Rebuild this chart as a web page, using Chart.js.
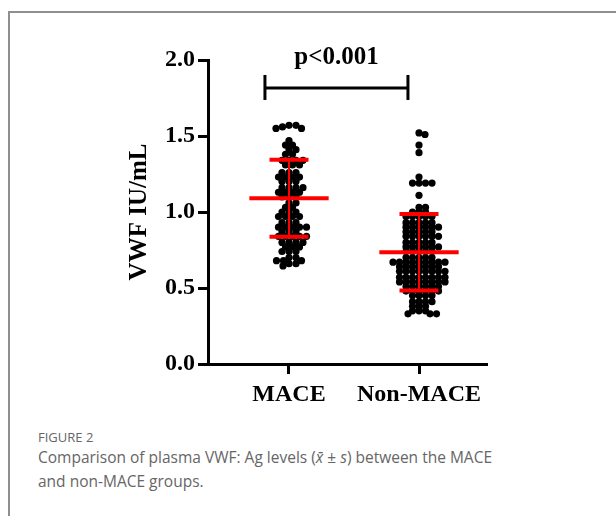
<!DOCTYPE html>
<html>
<head>
<meta charset="utf-8">
<script src="https://cdn.jsdelivr.net/npm/chart.js@4/dist/chart.umd.min.js"></script>
<style>
  html, body { margin:0; padding:0; background:#fff; }
  body { width:616px; height:516px; position:relative; overflow:hidden; }
  #frame { position:absolute; left:8px; top:11px; width:700px; height:600px;
           border-left:2px solid #8f8f8f; border-top:2px solid #8f8f8f; }
  #chart { position:absolute; left:0; top:0; }
  #cap { position:absolute; left:38px; top:428px; font-family:'Open Sans', 'Noto Sans', sans-serif; color:#666; }
  #cap .fig { font-size:13px; line-height:18px; }
  #cap .txt { font-size:15.5px; line-height:24px; margin-top:-1px; }
</style>
</head>
<body>
<div id="frame"></div>
<canvas id="chart" width="616" height="412"></canvas>
<div id="cap">
  <div class="fig">FIGURE 2</div>
  <div class="txt">Comparison of plasma VWF: Ag levels (<i>x̄</i> ± <i>s</i>) between the MACE<br>and non-MACE groups.</div>
</div>
<script>
// ---- data ----
const categories = ['MACE', 'Non-MACE'];
const yTicks = [0.0, 0.5, 1.0, 1.5, 2.0];

const maceValues = [
  1.57, 1.57, 1.56, 1.55, 1.55,
  1.47,
  1.44, 1.44,
  1.41, 1.41,
  1.38, 1.38,
  1.34, 1.34, 1.34, 1.34,
  1.31, 1.31, 1.31,
  1.26, 1.26, 1.26,
  1.23, 1.23, 1.23, 1.23,
  1.20, 1.20, 1.20,
  1.16, 1.16, 1.16, 1.16,
  1.13, 1.13, 1.13, 1.13,
  1.10, 1.10, 1.10,
  1.06, 1.06,
  1.03, 1.03,
  1.00, 1.00, 1.00,
  0.97, 0.97, 0.97, 0.97,
  0.93, 0.93, 0.93,
  0.90, 0.90, 0.90, 0.90, 0.90,
  0.87, 0.87, 0.87,
  0.84, 0.84, 0.84, 0.84, 0.84,
  0.80, 0.80, 0.80, 0.80,
  0.77, 0.77, 0.77,
  0.74, 0.74, 0.74,
  0.70, 0.70,
  0.68, 0.68, 0.68,
  0.66, 0.66, 0.645
];

const nonMaceValues = [
  1.52, 1.51,
  1.44,
  1.39,
  1.23,
  1.19, 1.19, 1.19, 1.19,
  1.11,
  1.03, 1.03,
  1.00, 1.00, 1.00,
  0.97, 0.97, 0.97, 0.97, 0.97,
  0.93, 0.93, 0.93, 0.93, 0.93,
  0.90, 0.90, 0.90, 0.90, 0.90, 0.90,
  0.87, 0.87, 0.87, 0.87, 0.87,
  0.84, 0.84, 0.84, 0.84, 0.84, 0.84,
  0.80, 0.80, 0.80, 0.80, 0.80,
  0.77, 0.77, 0.77, 0.77, 0.77, 0.77,
  0.74, 0.74, 0.74, 0.74, 0.74,
  0.70, 0.70, 0.70, 0.70, 0.70,
  0.67, 0.67, 0.67, 0.67, 0.67, 0.67, 0.67, 0.67, 0.67,
  0.64, 0.64, 0.64, 0.64, 0.64, 0.64, 0.64,
  0.61, 0.61, 0.61, 0.61, 0.61, 0.61, 0.61, 0.61,
  0.57, 0.57, 0.57, 0.57, 0.57, 0.57, 0.57, 0.57,
  0.54, 0.54, 0.54, 0.54, 0.54, 0.54, 0.54, 0.54,
  0.51, 0.51, 0.51, 0.51, 0.51, 0.51,
  0.48, 0.48, 0.48, 0.48, 0.48, 0.48,
  0.45, 0.45, 0.45, 0.45,
  0.41, 0.41, 0.41, 0.41,
  0.38, 0.38, 0.38,
  0.35, 0.35, 0.35,
  0.33, 0.33, 0.33
];

const groupMeans = [1.09, 0.735];
const groupSDs   = [0.253, 0.252];
const pLabel = 'p<0.001';
const bracketRange = [0.815, 1.915];   // x extent of comparison bracket (category units)
const bracketLevel = 1.816;            // y value of bracket
// ------------------------------------

const SERIF = "'Liberation Serif', 'Times New Roman', serif";
const groups = [maceValues, nonMaceValues];
const swarmSpacing = [[6.6, 5.2], [6.2, 4.3]];

const overlay = {
  id: 'overlay',
  afterDatasetsDraw(chart) {
    const {ctx, scales:{x, y}} = chart;
    ctx.save();
    ctx.strokeStyle = '#ff0000';
    groups.forEach((g, i) => {
      const cx = x.getPixelForValue(i + 1);
      const unit = x.getPixelForValue(1) - x.getPixelForValue(0);
      const m = groupMeans[i], s = groupSDs[i];
      const yHi = y.getPixelForValue(m + s), yLo = y.getPixelForValue(m - s), yM = y.getPixelForValue(m);
      ctx.lineWidth = 2;
      ctx.beginPath(); ctx.moveTo(cx, yHi); ctx.lineTo(cx, yLo); ctx.stroke();
      ctx.lineWidth = 4;
      const hw = 0.305 * unit, sw = 0.15 * unit;
      ctx.beginPath(); ctx.moveTo(cx - hw, yM); ctx.lineTo(cx + hw, yM); ctx.stroke();
      ctx.beginPath(); ctx.moveTo(cx - sw, yHi); ctx.lineTo(cx + sw, yHi); ctx.stroke();
      ctx.beginPath(); ctx.moveTo(cx - sw, yLo); ctx.lineTo(cx + sw, yLo); ctx.stroke();
    });
    const bx1 = x.getPixelForValue(bracketRange[0]);
    const bx2 = x.getPixelForValue(bracketRange[1]);
    const by = y.getPixelForValue(bracketLevel);
    ctx.strokeStyle = '#000'; ctx.lineWidth = 3;
    ctx.beginPath(); ctx.moveTo(bx1, by); ctx.lineTo(bx2, by); ctx.stroke();
    ctx.beginPath(); ctx.moveTo(bx1, by - 13); ctx.lineTo(bx1, by + 12); ctx.stroke();
    ctx.beginPath(); ctx.moveTo(bx2, by - 13); ctx.lineTo(bx2, by + 12); ctx.stroke();
    ctx.fillStyle = '#000';
    ctx.font = 'bold 25px ' + SERIF;
    ctx.textAlign = 'center'; ctx.textBaseline = 'alphabetic';
    ctx.fillText(pLabel, (bx1 + bx2) / 2, by - 24);
    ctx.restore();
  }
};

const chart = new Chart(document.getElementById('chart'), {
  type: 'scatter',
  data: {
    datasets: groups.map((g, i) => ({
      label: categories[i],
      data: g.map(v => ({x: i + 1, y: v})),
      backgroundColor: '#000',
      borderColor: '#000',
      pointRadius: 3.6,
      borderWidth: 0
    }))
  },
  options: {
    responsive: false,
    animation: false,
    devicePixelRatio: 1,
    layout: { padding: { top: 60, right: 129, left: 0, bottom: 0 } },
    plugins: { legend: { display: false }, tooltip: { enabled: false } },
    scales: {
      x: {
        type: 'linear', min: 0.377, max: 2.523,
        afterBuildTicks: s => { s.ticks = categories.map((c, i) => ({ value: i + 1 })); },
        afterFit: s => { s.height = 412 - 364; },
        ticks: {
          autoSkip: false, maxRotation: 0, padding: 6, color: '#000',
          font: { family: SERIF, size: 24, weight: 'bold' },
          callback: v => categories[Math.round(v) - 1]
        },
        grid: { drawOnChartArea: false, drawTicks: true, tickLength: 10, tickWidth: 3, tickColor: '#000', color: '#000' },
        border: { display: true, color: '#000', width: 3 }
      },
      y: {
        min: 0, max: 2,
        afterBuildTicks: s => { s.ticks = yTicks.map(v => ({ value: v })); },
        afterFit: s => { s.width = 208; },
        ticks: {
          padding: 3, color: '#000',
          font: { family: SERIF, size: 24, weight: 'bold' },
          callback: v => Number(v).toFixed(1)
        },
        grid: { drawOnChartArea: false, drawTicks: true, tickLength: 10, tickWidth: 3, tickColor: '#000', color: '#000' },
        border: { display: true, color: '#000', width: 3 },
        title: {
          display: true, text: 'VWF IU/mL', color: '#000',
          font: { family: SERIF, size: 25, weight: 'bold' },
          padding: { top: 125, bottom: 0 }
        }
      }
    }
  },
  plugins: [overlay]
});

// beeswarm layout of the dots (derived from the values through the scales)
function swarm(values, yScale, ax, ay) {
  const order = values.map((v, i) => i).sort((a, b) => values[b] - values[a]);
  const placed = [];
  const offs = new Array(values.length).fill(0);
  for (const i of order) {
    const py = yScale.getPixelForValue(values[i]);
    let chosen = 0;
    for (let k = 0; k < 400; k++) {
      const cand = (k % 2 ? 1 : -1) * Math.ceil(k / 2) * 0.5;
      let ok = true;
      for (const p of placed) {
        const dx = (p.x - cand) / ax, dy = (p.y - py) / ay;
        if (dx * dx + dy * dy < 0.999) { ok = false; break; }
      }
      if (ok) { chosen = cand; break; }
    }
    placed.push({ x: chosen, y: py });
    offs[i] = chosen;
  }
  return offs;
}
const xs = chart.scales.x, ys = chart.scales.y;
const unit = xs.getPixelForValue(1) - xs.getPixelForValue(0);
groups.forEach((g, i) => {
  const offs = swarm(g, ys, swarmSpacing[i][0], swarmSpacing[i][1]);
  chart.data.datasets[i].data = g.map((v, j) => ({ x: i + 1 + offs[j] / unit, y: v }));
});
chart.update('none');
</script>
</body>
</html>
